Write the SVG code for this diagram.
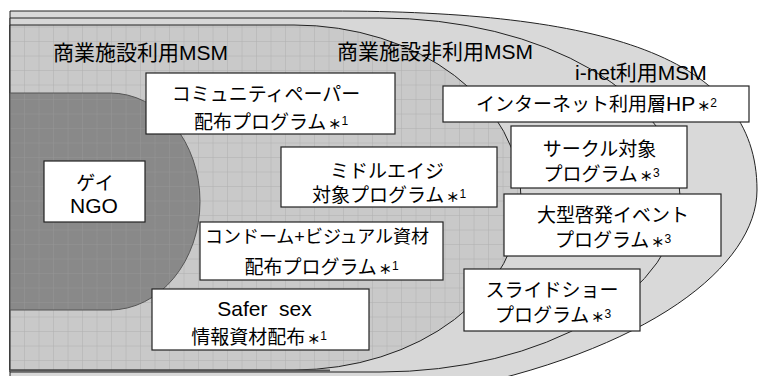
<svg xmlns="http://www.w3.org/2000/svg" width="758" height="376" viewBox="0 0 758 376">
<defs>
<pattern id="grid" x="10.5" y="13" width="14.5" height="14.5" patternUnits="userSpaceOnUse">
<rect width="14.5" height="14.5" fill="#c9c9c9"/>
<path d="M14.5 0V14.5M0 14.5H14.5" stroke="#b0b0b0" stroke-width="1" fill="none"/>
</pattern>
<pattern id="gridDark" x="10.5" y="13" width="14.5" height="14.5" patternUnits="userSpaceOnUse">
<rect width="14.5" height="14.5" fill="#898989"/>
<path d="M14.5 0V14.5M0 14.5H14.5" stroke="#969696" stroke-width="1" fill="none"/>
</pattern>
</defs>
<style>
.region{stroke:#222;stroke-width:1}
.box{fill:#fff;stroke:#222;stroke-width:1.2}
text{font-family:"Liberation Sans","Noto Sans CJK JP",sans-serif;fill:#000;text-anchor:middle;font-size:19px}
.s{font-size:18px}
.lat{font-size:21px}
.lbl{font-size:21px;text-anchor:start}
.ast{font-size:13px;font-weight:bold}
.n{font-size:12px}
</style>
<g id="regions">
<path id="inet" class="region" fill="#d9d9d9" d="M10,11 H330 C600,11 757,55 757,190 C757,265 650,352 440,392 H10 Z"/>
<path id="hinonuse" class="region" fill="#d7d7d7" d="M10,18 H380 A300,177 0 0 1 380,372 H10 Z"/>
<path id="use" class="region" fill="url(#grid)" d="M10,25 H294 A227,172.5 0 0 1 294,370 H10 Z"/>
<line x1="10" y1="370.5" x2="330" y2="370.5" stroke="#555" stroke-width="2"/>
<path id="ngo" fill="url(#gridDark)" stroke="#555" stroke-width="1" d="M10,93 H110 A90,108.5 0 0 1 110,310 H10 Z"/>
</g>
<g id="labels">
<text class="lbl" x="53" y="60">商業施設利用MSM</text>
<text class="lbl" x="337" y="59">商業施設非利用MSM</text>
<text class="lbl" x="575" y="80">i-net利用MSM</text>
</g>
<g id="node-gay-ngo">
<rect class="box" x="44" y="161" width="101" height="61"/>
<text x="95" y="190">ゲイ</text>
<text class="lat" x="94" y="213">NGO</text>
</g>
<g id="node-community">
<rect class="box" x="146" y="73" width="249" height="61"/>
<text x="266" y="101">コミュニティペーパー</text>
<text x="271" y="128.5">配布プログラム<tspan class="ast" dx="2">＊</tspan><tspan class="n" dy="-4">1</tspan></text>
</g>
<g id="node-middle">
<rect class="box" x="281" y="147" width="216" height="60"/>
<text x="387" y="178">ミドルエイジ</text>
<text x="389" y="201.5">対象プログラム<tspan class="ast" dx="2">＊</tspan><tspan class="n" dy="-4">1</tspan></text>
</g>
<g id="node-condom">
<rect class="box" x="200" y="222" width="243" height="58"/>
<text class="s" x="317" y="243">コンドーム+ビジュアル資材</text>
<text x="321.5" y="274">配布プログラム<tspan class="ast" dx="2">＊</tspan><tspan class="n" dy="-4">1</tspan></text>
</g>
<g id="node-safer">
<rect class="box" x="152" y="289" width="217" height="61"/>
<text class="lat" x="264.5" y="316" xml:space="preserve">Safer  sex</text>
<text x="259" y="344">情報資材配布<tspan class="ast" dx="2">＊</tspan><tspan class="n" dy="-4">1</tspan></text>
</g>
<g id="node-internet">
<rect class="box" x="443" y="86" width="306" height="36"/>
<text x="596.5" y="111">インターネット利用層<tspan class="lat">HP</tspan><tspan class="ast" dx="2">＊</tspan><tspan class="n" dy="-4">2</tspan></text>
</g>
<g id="node-circle">
<rect class="box" x="511" y="126" width="176" height="62"/>
<text x="599.5" y="156">サークル対象</text>
<text x="601.5" y="181">プログラム<tspan class="ast" dx="2">＊</tspan><tspan class="n" dy="-4">3</tspan></text>
</g>
<g id="node-event">
<rect class="box" x="504" y="194" width="217" height="62"/>
<text x="613" y="222">大型啓発イベント</text>
<text x="613" y="247">プログラム<tspan class="ast" dx="2">＊</tspan><tspan class="n" dy="-4">3</tspan></text>
</g>
<g id="node-slide">
<rect class="box" x="464" y="269" width="176" height="62"/>
<text x="552" y="297">スライドショー</text>
<text x="553" y="322">プログラム<tspan class="ast" dx="2">＊</tspan><tspan class="n" dy="-4">3</tspan></text>
</g>
<g id="connectors"></g>
</svg>
